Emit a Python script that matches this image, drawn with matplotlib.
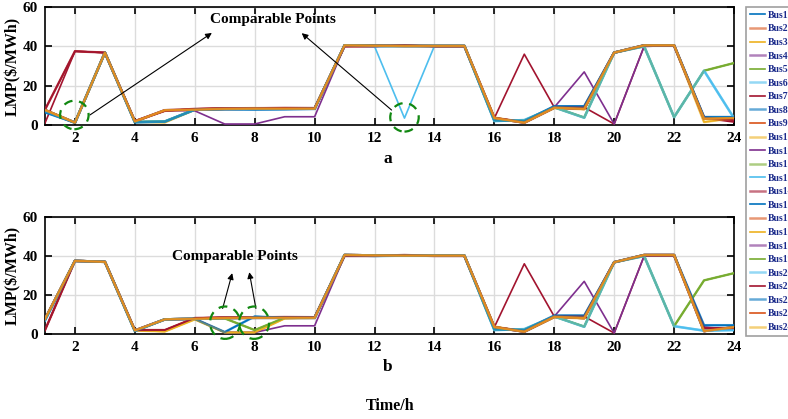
import numpy as np
import matplotlib
matplotlib.use('Agg')
import matplotlib.pyplot as plt
from matplotlib.patches import Ellipse

plt.rcParams['font.family'] = 'Liberation Serif'
plt.rcParams['font.weight'] = 'bold'

#---------------- data (LMP, $/MWh) ----------------
hours = list(range(1, 25))
buses = ['Bus%d' % i for i in range(1, 25)]

# panel a profiles
a_main   = [7.6, 1.2, 36.8, 1.8, 7.5, 7.8, 8.2, 8.3, 8.3, 8.3, 40.5, 40.3, 40.2, 40.2, 40.2, 3.5, 1.2, 8.8, 8.2, 36.8, 40.5, 40.5, 3.2, 3.5]
a_low5   = [7.6, 1.2, 36.8, 1.6, 1.3, 7.8, 8.4, 8.6, 8.3, 8.3, 40.5, 40.3, 40.2, 40.2, 40.2, 3.8, 1.2, 8.6, 8.0, 36.8, 40.5, 40.5, 1.5, 3.5]
a_blue   = [6.5, 1.2, 36.8, 1.4, 1.7, 7.8, 8.0, 7.9, 8.0, 8.2, 40.5, 40.3, 40.2, 40.2, 40.2, 2.4, 2.0, 9.5, 9.5, 36.8, 40.5, 40.5, 4.0, 4.0]
a_red1   = [1.0, 37.5, 36.8, 2.0, 7.2, 8.2, 8.5, 8.5, 8.7, 8.6, 40.0, 40.0, 40.5, 40.0, 40.0, 3.5, 36.0, 9.0, 9.0, 0.5, 40.0, 40.3, 3.5, 1.5]
a_red2   = [7.8, 37.5, 36.8, 2.0, 7.2, 8.2, 8.5, 8.5, 8.7, 8.6, 40.0, 40.0, 40.5, 40.0, 40.0, 3.5, 1.5, 9.0, 9.0, 36.8, 40.3, 40.3, 3.8, 2.5]
a_purple = [7.6, 1.2, 36.8, 1.8, 7.5, 7.2, 0.5, 0.5, 4.2, 4.2, 40.0, 40.3, 40.2, 40.2, 40.2, 3.5, 1.5, 9.0, 27.0, 0.5, 40.0, 40.3, 3.5, 3.0]
a_cyan   = [7.0, 1.2, 36.8, 1.5, 1.8, 7.8, 8.2, 8.3, 8.3, 8.3, 40.5, 40.0, 40.2, 40.2, 40.2, 2.0, 2.5, 9.0, 3.7, 36.8, 40.0, 4.0, 27.6, 3.5]
a_cyan13 = [7.0, 1.2, 36.8, 1.5, 1.8, 7.8, 8.2, 8.3, 8.3, 8.3, 40.5, 40.0, 3.5, 40.2, 40.2, 2.0, 2.5, 9.0, 3.7, 36.8, 40.0, 4.0, 27.6, 3.5]
a_green  = [7.5, 1.2, 36.8, 1.6, 1.8, 7.8, 8.2, 8.3, 8.3, 8.3, 40.5, 40.3, 40.2, 40.2, 40.2, 2.2, 2.3, 9.0, 3.8, 36.8, 40.0, 4.0, 27.6, 31.5]

# panel b profiles
b_main   = [7.6, 37.5, 37.0, 1.8, 7.5, 7.8, 8.2, 8.3, 8.3, 8.3, 40.5, 40.3, 40.2, 40.2, 40.2, 3.5, 1.2, 8.8, 8.2, 36.8, 40.5, 40.5, 1.5, 3.5]
b_orange = [7.6, 37.5, 37.0, 1.8, 1.3, 7.5, 0.8, 0.8, 8.0, 8.3, 40.5, 40.3, 40.2, 40.2, 40.2, 3.8, 1.2, 8.6, 8.0, 36.8, 40.5, 40.5, 1.5, 3.5]
b_red    = [2.0, 37.5, 37.0, 2.0, 2.0, 8.2, 8.5, 8.5, 8.7, 8.6, 40.0, 40.0, 40.5, 40.0, 40.0, 3.5, 36.0, 9.0, 9.0, 0.5, 40.0, 40.3, 3.5, 2.0]
b_red2   = [2.0, 37.5, 37.0, 2.0, 2.0, 8.2, 8.5, 8.5, 8.7, 8.6, 40.0, 40.0, 40.5, 40.0, 40.0, 3.5, 1.5, 9.0, 9.0, 36.8, 40.3, 40.3, 3.0, 3.0]
b_blue   = [7.0, 37.5, 37.0, 1.5, 7.5, 7.8, 1.0, 9.0, 8.3, 8.3, 40.5, 40.3, 40.2, 40.2, 40.2, 2.4, 2.0, 9.5, 9.5, 36.8, 40.5, 40.5, 4.5, 4.5]
b_green  = [7.5, 37.5, 37.0, 1.6, 7.5, 7.8, 8.0, 2.0, 8.3, 8.3, 40.5, 40.3, 40.2, 40.2, 40.2, 2.2, 2.3, 9.0, 3.8, 36.8, 40.0, 4.0, 27.5, 31.2]
b_purple = [7.6, 37.5, 37.0, 1.8, 7.5, 7.8, 0.8, 0.8, 4.2, 4.2, 40.0, 40.3, 40.2, 40.2, 40.2, 3.5, 1.5, 9.0, 27.0, 0.5, 40.0, 40.3, 3.5, 2.5]
b_cyan   = [7.0, 37.5, 37.0, 1.5, 7.5, 7.8, 8.2, 8.3, 8.3, 8.3, 40.5, 40.0, 40.2, 40.2, 40.2, 2.0, 2.5, 9.0, 3.7, 36.8, 40.0, 4.0, 1.7, 2.0]

# which profile each bus follows
lmp_a = [a_blue, a_main, a_low5, a_main, a_green, a_cyan, a_red1, a_blue,
         a_red2, a_low5, a_purple, a_green, a_cyan13, a_red2, a_main, a_main,
         a_main, a_main, a_green, a_cyan, a_red2, a_blue, a_main, a_main]
lmp_b = [b_blue, b_main, b_orange, b_main, b_green, b_cyan, b_red, b_main,
         b_red2, b_orange, b_purple, b_green, b_cyan, b_red2, b_main, b_main,
         b_orange, b_main, b_green, b_cyan, b_red2, b_blue, b_main, b_main]

#---------------- styles ----------------
mcolors = ['#0072BD', '#D95319', '#EDB120', '#7E2F8E', '#77AC30', '#4DBEEE', '#A2142F']

W, H = 788, 419
fig = plt.figure(figsize=(W/100, H/100), dpi=100)

def px(x0, y0, x1, y1):
    return [x0/W, 1-y1/H, (x1-x0)/W, (y1-y0)/H]

ax1 = fig.add_axes(px(45, 7, 734, 125))
ax2 = fig.add_axes(px(45, 217, 734, 334))

lines = []
for ax, data in [(ax1, lmp_a), (ax2, lmp_b)]:
    lines = []
    for i in range(24):
        even = (i % 2 == 1)
        l, = ax.plot(hours, data[i], color=mcolors[i % 7],
                     lw=1.8 if even else 1.2, alpha=0.6 if even else 1.0,
                     label=buses[i], zorder=3)
        lines.append(l)
    ax.set_xlim(1, 24)
    ax.set_ylim(0, 60)
    ax.set_xticks(range(2, 25, 2))
    ax.set_yticks([0, 20, 40, 60])
    ax.grid(True, color='#dcdcdc', lw=1.0)
    ax.set_axisbelow(True)
    ax.tick_params(direction='in', length=5, width=1.2, top=True, right=True,
                   labelsize=11, pad=5)
    for s in ax.spines.values():
        s.set_linewidth(1.2)
    ax.set_ylabel('LMP($/MWh)', fontsize=11.5, fontweight='bold', labelpad=1)

# annotations panel a
ax1.text(8.6, 53.5, 'Comparable Points', fontsize=11, fontweight='bold', ha='center', va='center')
aprops = dict(arrowstyle='-|>', color='k', lw=0.8, mutation_scale=9, shrinkA=0, shrinkB=0)
ax1.annotate('', xy=(6.57, 46.8), xytext=(2.5, 5.1), arrowprops=aprops)
ax1.annotate('', xy=(9.57, 46.7), xytext=(12.57, 7.6), arrowprops=aprops)
for (cx, cy) in [(1.98, 5.1), (13.0, 3.9)]:
    ax1.add_patch(Ellipse((cx, cy), 0.95, 14.5, fill=False, ec='#118811', lw=1.6,
                          ls=(0, (4, 3)), clip_on=False, zorder=5))

# annotations panel b
ax2.text(7.34, 39.7, 'Comparable Points', fontsize=11, fontweight='bold', ha='center', va='center')
ax2.annotate('', xy=(7.25, 31.2), xytext=(6.93, 13.1), arrowprops=aprops)
ax2.annotate('', xy=(7.82, 31.7), xytext=(8.04, 13.1), arrowprops=aprops)
for (cx, cy) in [(7.01, 5.8), (7.98, 5.8)]:
    ax2.add_patch(Ellipse((cx, cy), 1.0, 16.6, fill=False, ec='#118811', lw=1.6,
                          ls=(0, (4, 3)), clip_on=False, zorder=5))

fig.text(388/W, 1-159/H, 'a', fontsize=12.5, fontweight='bold', ha='center', va='center')
fig.text(388/W, 1-367/H, 'b', fontsize=12.5, fontweight='bold', ha='center', va='center')
fig.text(390/W, 1-406/H, 'Time/h', fontsize=11.5, fontweight='bold', ha='center', va='center')

leg = fig.legend(lines, buses, loc='upper left', bbox_to_anchor=(746/W, 1-7/H),
                 fontsize=7, handlelength=1.6, handletextpad=0.2, labelspacing=0.47,
                 borderpad=0.4, frameon=True, fancybox=False, borderaxespad=0)
leg.get_frame().set_edgecolor('#888888')
leg.get_frame().set_linewidth(1.2)
for t in leg.get_texts():
    t.set_color('#1a2a8a')
    t.set_fontweight('bold')

fig.savefig('out.png', dpi=100)
